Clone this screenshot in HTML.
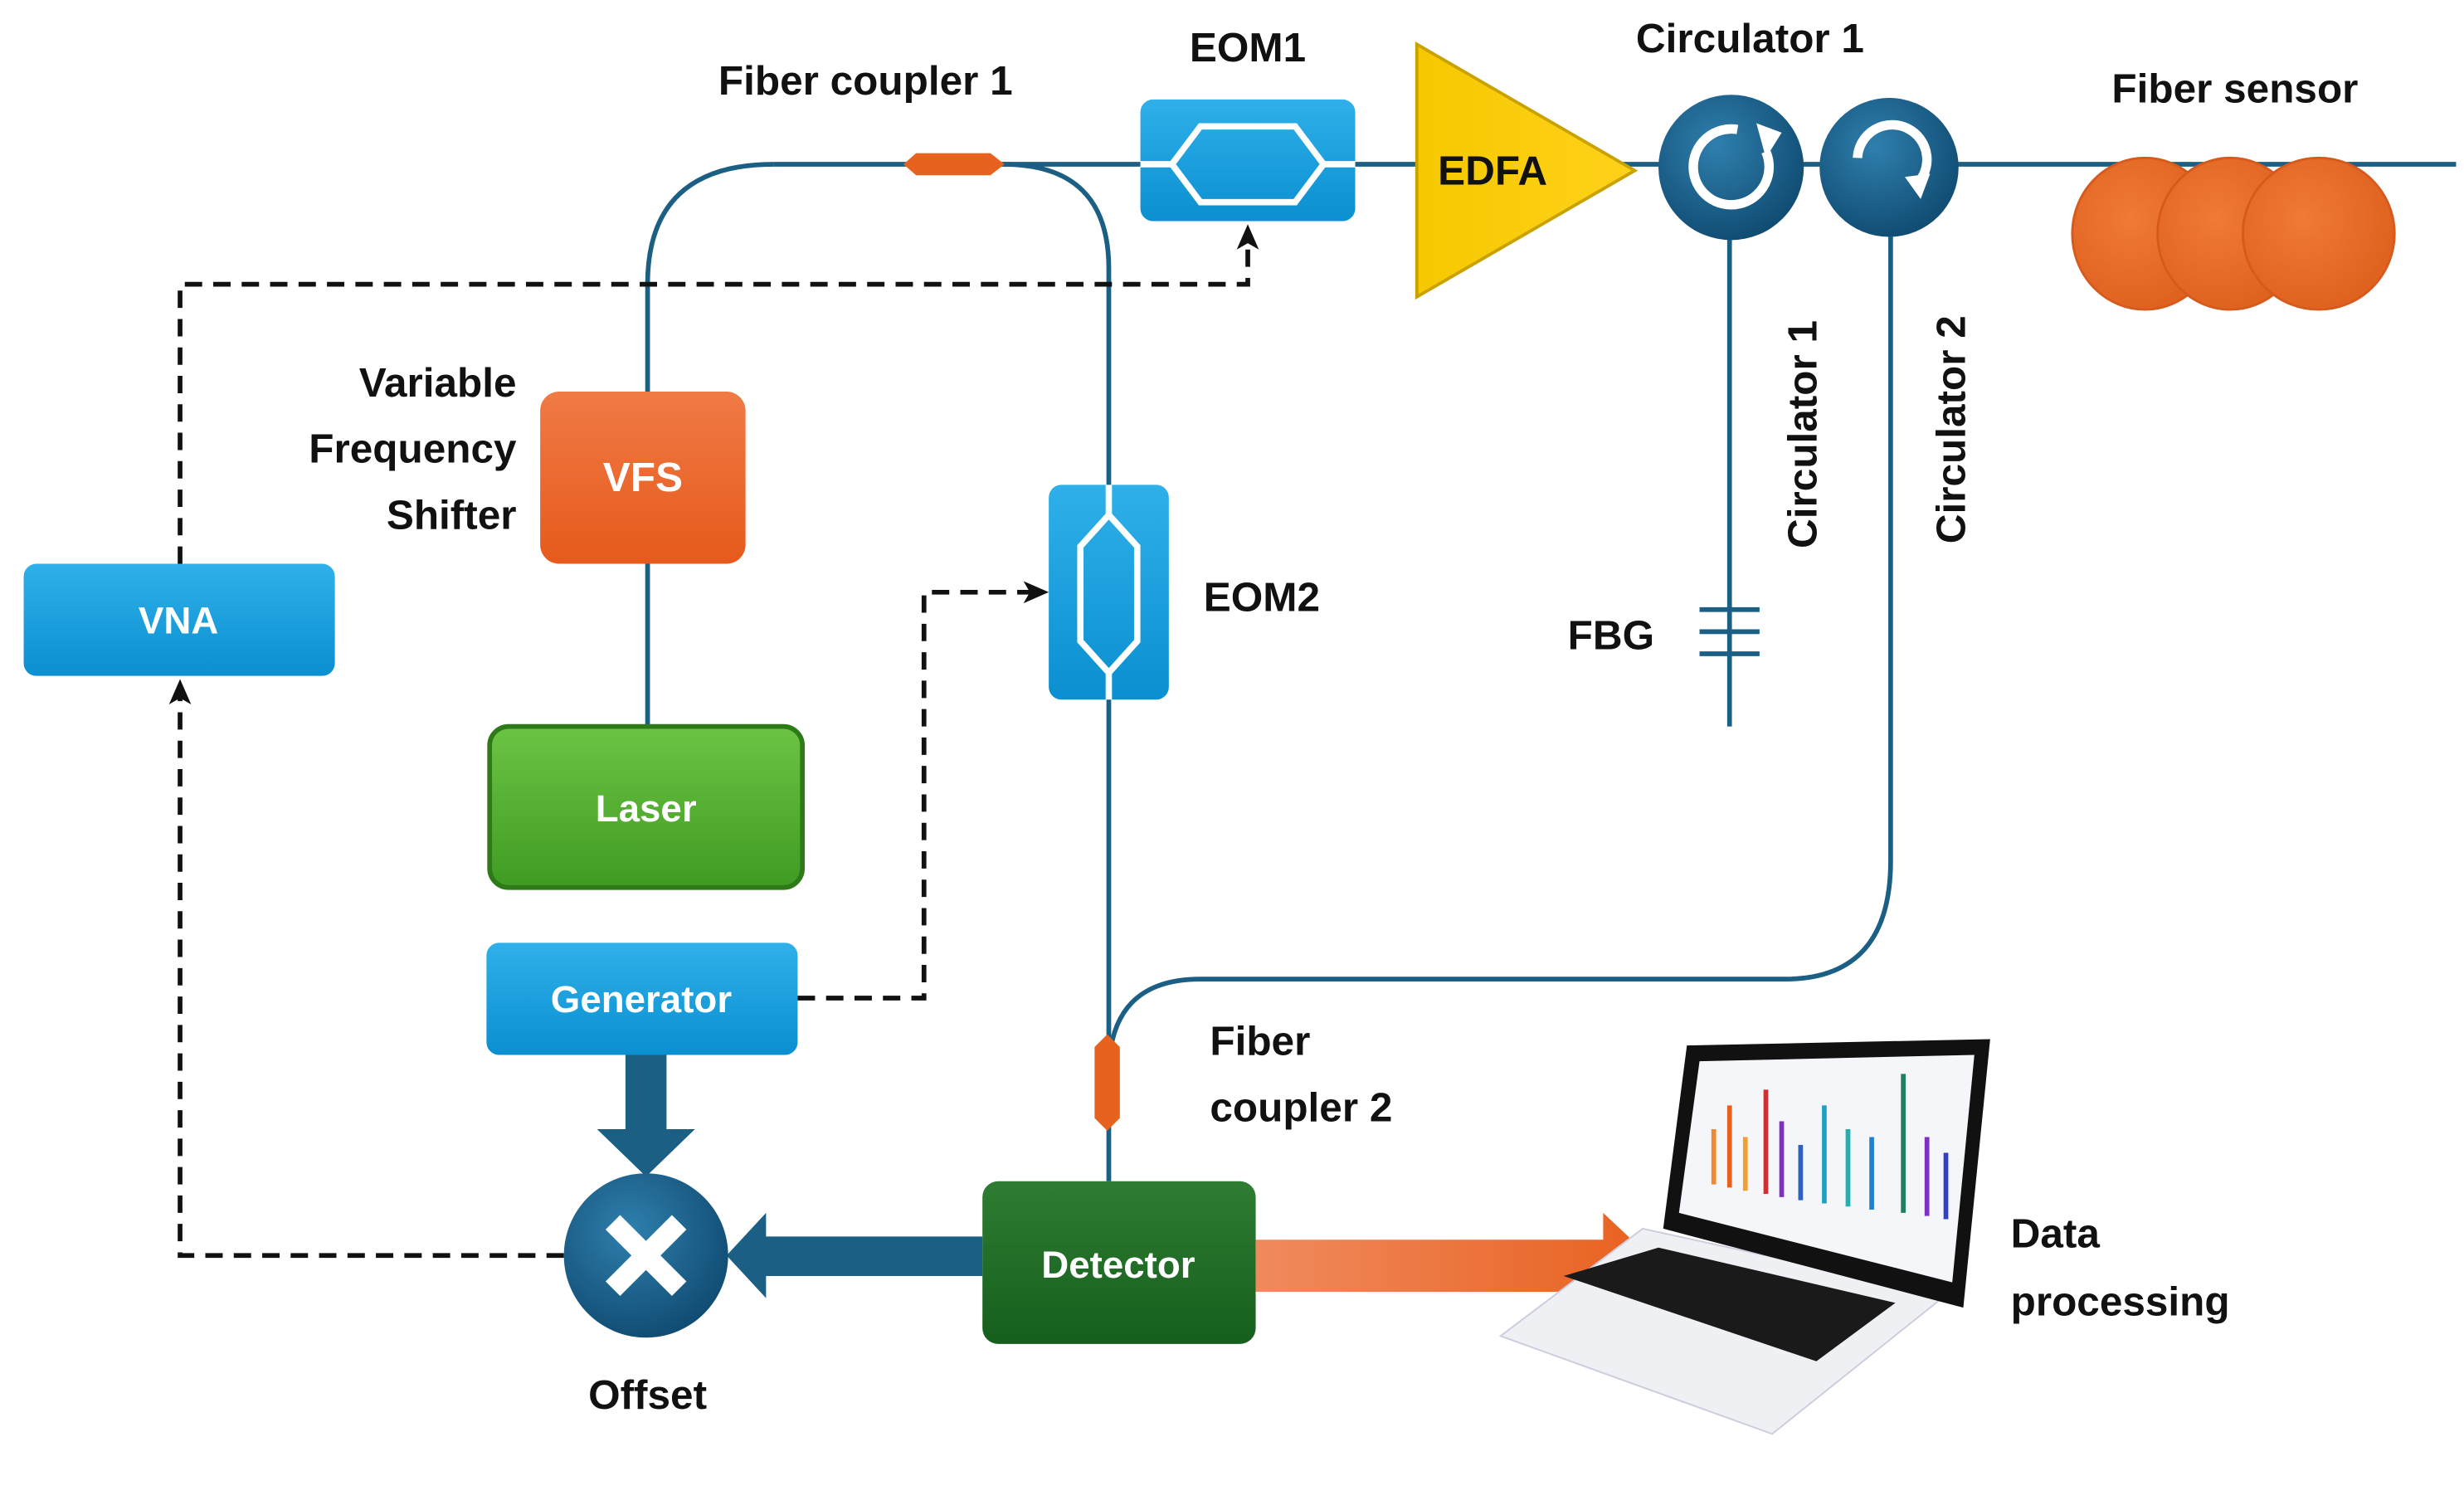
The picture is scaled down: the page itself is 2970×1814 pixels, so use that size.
<!DOCTYPE html>
<html><head><meta charset="utf-8"><style>
html,body{margin:0;padding:0;background:#fff}
svg{display:block}
text{font-family:"Liberation Sans",sans-serif;font-weight:bold}
</style></head><body>
<svg width="2970" height="1814" viewBox="0 0 1560 953" preserveAspectRatio="none" xmlns="http://www.w3.org/2000/svg">
<defs>
<linearGradient id="blue" x1="0" y1="0" x2="0" y2="1"><stop offset="0" stop-color="#2fb0ea"/><stop offset="1" stop-color="#0a8fd0"/></linearGradient>
<linearGradient id="orange" x1="0" y1="0" x2="0" y2="1"><stop offset="0" stop-color="#f07a45"/><stop offset="1" stop-color="#e65a1c"/></linearGradient>
<linearGradient id="green" x1="0" y1="0" x2="0" y2="1"><stop offset="0" stop-color="#6cc444"/><stop offset="1" stop-color="#3f9b22"/></linearGradient>
<linearGradient id="dgreen" x1="0" y1="0" x2="0" y2="1"><stop offset="0" stop-color="#2e7d32"/><stop offset="1" stop-color="#165e1d"/></linearGradient>
<linearGradient id="yel" x1="0" y1="0" x2="1" y2="0"><stop offset="0" stop-color="#f5c800"/><stop offset="1" stop-color="#ffd21a"/></linearGradient>
<linearGradient id="oarr" x1="0" y1="0" x2="1" y2="0"><stop offset="0" stop-color="#f08a5e"/><stop offset="1" stop-color="#e8601e"/></linearGradient>
<radialGradient id="circ" cx="0.4" cy="0.35" r="0.7"><stop offset="0" stop-color="#2f7fae"/><stop offset="1" stop-color="#0f4a70"/></radialGradient>
<radialGradient id="sens" cx="0.4" cy="0.4" r="0.6"><stop offset="0" stop-color="#f07a38"/><stop offset="1" stop-color="#e0621f"/></radialGradient>
</defs>
<g fill="none" stroke="#1b5f84" stroke-width="3">
<path d="M490,104 H1555"/>
<path d="M490,104 Q410,104 410,180 V248"/>
<path d="M410,357 V460"/>
<path d="M635,104 Q702,104 702,170 V748"/>
<path d="M1095,150 V460"/>
<path d="M1197,150 V545 Q1197,620 1130,620 H760 Q702,620 702,680"/>
</g>
<g stroke="#1b5f84" stroke-width="3"><line x1="1076" y1="386" x2="1114" y2="386"/><line x1="1076" y1="400" x2="1114" y2="400"/><line x1="1076" y1="414" x2="1114" y2="414"/></g>
<path d="M572,104 L580,97 H627 L636,104 L627,111 H580 Z" fill="#e8621f"/>
<path d="M701,655 L709,663 V708 L701,716 L693,708 V663 Z" fill="#e8621f"/>
<g fill="none" stroke="#111" stroke-width="3" stroke-dasharray="11,7">
<path d="M114,357 V180 H790 V150"/>
<path d="M505,632 H585 V375 H655"/>
<path d="M357,795 H114 V440"/>
</g>
<path d="M790,142 L783,158 L790,154 L797,158 Z" fill="#111"/>
<path d="M664,375 L648,368 L652,375 L648,382 Z" fill="#111"/>
<path d="M114,430 L107,446 L114,442 L121,446 Z" fill="#111"/>
<rect x="722" y="63" width="136" height="77" rx="8" fill="url(#blue)"/>
<path d="M722,104 H742 L760,80 H820 L838,104 H858 M742,104 L760,128 H820 L838,104" fill="none" stroke="#fff" stroke-width="4"/>
<rect x="664" y="307" width="76" height="136" rx="8" fill="url(#blue)"/>
<path d="M702,307 V326 L684,346 V406 L702,426 V443 M702,326 L720,346 V406 L702,426" fill="none" stroke="#fff" stroke-width="4"/>
<polygon points="897,28 897,188 1035,108" fill="url(#yel)" stroke="#c9a200" stroke-width="2"/>
<text x="945" y="117" font-size="26" text-anchor="middle" fill="#111">EDFA</text>
<circle cx="1096" cy="106" r="46" fill="url(#circ)"/>
<path d="M1118,96 A24,24 0 1 1 1100,82" fill="none" stroke="#fff" stroke-width="6"/>
<polygon points="1112,78 1128,84 1118,100" fill="#fff"/>
<circle cx="1196" cy="106" r="44" fill="url(#circ)"/>
<path d="M1176,100 A22,22 0 1 1 1212,118" fill="none" stroke="#fff" stroke-width="6"/>
<polygon points="1206,112 1222,110 1216,126" fill="#fff"/>
<ellipse cx="1358" cy="148" rx="46" ry="48" fill="url(#sens)" stroke="#d55a1c" stroke-width="1.5"/>
<ellipse cx="1412" cy="148" rx="46" ry="48" fill="url(#sens)" stroke="#d55a1c" stroke-width="1.5"/>
<ellipse cx="1468" cy="148" rx="48" ry="48" fill="url(#sens)" stroke="#d55a1c" stroke-width="1.5"/>
<rect x="342" y="248" width="130" height="109" rx="12" fill="url(#orange)"/>
<text x="407" y="311" font-size="26" text-anchor="middle" fill="#fff">VFS</text>
<rect x="310" y="460" width="198" height="102" rx="12" fill="url(#green)" stroke="#2f7a18" stroke-width="3"/>
<text x="409" y="520" font-size="24" text-anchor="middle" fill="#fff">Laser</text>
<rect x="308" y="597" width="197" height="71" rx="8" fill="url(#blue)"/>
<text x="406" y="641" font-size="24" text-anchor="middle" fill="#fff">Generator</text>
<rect x="15" y="357" width="197" height="71" rx="8" fill="url(#blue)"/>
<text x="113" y="401" font-size="24" text-anchor="middle" fill="#fff">VNA</text>
<rect x="622" y="748" width="173" height="103" rx="10" fill="url(#dgreen)"/>
<text x="708" y="809" font-size="24" text-anchor="middle" fill="#fff">Detector</text>
<polygon points="396,668 422,668 422,715 440,715 409,745 378,715 396,715" fill="#1b5f84"/>
<polygon points="622,783 622,808 485,808 485,822 460,795 485,768 485,783" fill="#1b5f84"/>
<polygon points="795,785 1015,785 1015,768 1050,801 1015,835 1015,818 795,818" fill="url(#oarr)"/>
<circle cx="409" cy="795" r="52" fill="url(#circ)"/>
<path d="M388,774 L430,816 M430,774 L388,816" stroke="#fff" stroke-width="13"/>
<polygon points="1040,778 1232,820 1122,908 950,846" fill="#eef0f4" stroke="#ccd" stroke-width="1"/>
<polygon points="1050,790 1200,825 1150,862 990,808" fill="#1a1a1a"/>
<polygon points="1068,662 1260,658 1243,828 1053,778" fill="#111"/>
<polygon points="1076,672 1250,668 1236,812 1063,768" fill="#f4f6fa"/>
<g stroke-width="3">
<line x1="1085" y1="750" x2="1085" y2="715" stroke="#f08a2c"/><line x1="1095" y1="752" x2="1095" y2="700" stroke="#e8601e"/><line x1="1105" y1="754" x2="1105" y2="720" stroke="#f0a030"/><line x1="1118" y1="756" x2="1118" y2="690" stroke="#d03030"/><line x1="1128" y1="758" x2="1128" y2="710" stroke="#8030c0"/><line x1="1140" y1="760" x2="1140" y2="725" stroke="#3060c0"/><line x1="1155" y1="762" x2="1155" y2="700" stroke="#20a0c0"/><line x1="1170" y1="764" x2="1170" y2="715" stroke="#20b0b0"/><line x1="1185" y1="766" x2="1185" y2="720" stroke="#2080d0"/><line x1="1205" y1="768" x2="1205" y2="680" stroke="#208060"/><line x1="1220" y1="770" x2="1220" y2="720" stroke="#8030c0"/><line x1="1232" y1="772" x2="1232" y2="730" stroke="#3040c0"/>
</g>
<g font-size="26" fill="#111">
<text x="548" y="60" text-anchor="middle">Fiber coupler 1</text>
<text x="790" y="39" text-anchor="middle">EOM1</text>
<text x="1108" y="33" text-anchor="middle">Circulator 1</text>
<text x="1415" y="65" text-anchor="middle">Fiber sensor</text>
<text x="327" y="251" text-anchor="end">Variable</text>
<text x="327" y="293" text-anchor="end">Frequency</text>
<text x="327" y="335" text-anchor="end">Shifter</text>
<text x="762" y="387">EOM2</text>
<text x="1020" y="411" text-anchor="middle">FBG</text>
<text transform="translate(1150,275) rotate(-90)" text-anchor="middle">Circulator 1</text>
<text transform="translate(1244,272) rotate(-90)" text-anchor="middle">Circulator 2</text>
<text x="766" y="668">Fiber</text>
<text x="766" y="710">coupler 2</text>
<text x="1273" y="790">Data</text>
<text x="1273" y="833">processing</text>
<text x="410" y="892" text-anchor="middle">Offset</text>
</g>
</svg>
</body></html>
